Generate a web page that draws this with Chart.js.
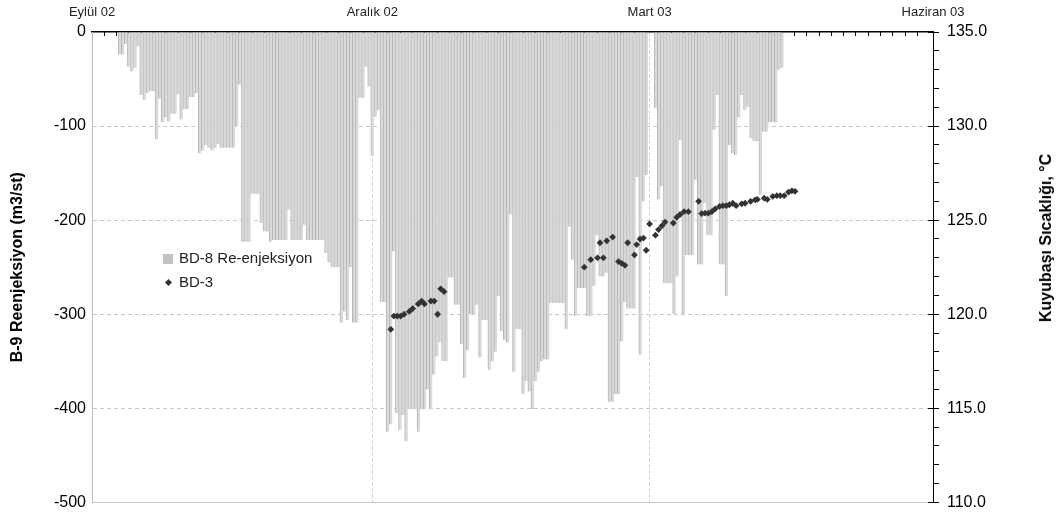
<!DOCTYPE html>
<html>
<head>
<meta charset="utf-8">
<script src="https://cdn.jsdelivr.net/npm/chart.js@4.4.1/dist/chart.umd.min.js"></script>
<style>
  body { margin: 0; background: #fff; }
  #wrap { position: relative; width: 1061px; height: 520px; font-family: "Liberation Sans", Arial, sans-serif; }
  #legend { position: absolute; left: 163px; top: 246px; font-size: 15px; color: #222; line-height: 24px; }
  #legend .sw { display: inline-block; width: 10px; height: 10px; background: #c2c2c2; margin-right: 6px; vertical-align: -1px; }
  #legend .dm { display: inline-block; width: 5px; height: 5px; background: #333; transform: rotate(45deg); margin: 0 8px 0 3px; vertical-align: 2px; }
  #rtitle { position: absolute; left: 1046px; top: 238px; transform: translate(-50%, -50%) rotate(-90deg); white-space: nowrap; font-size: 16px; font-weight: bold; color: #000; }
</style>
</head>
<body>
<div id="wrap">
  <canvas id="chart" width="1061" height="520"></canvas>
  <div id="legend"></div>
  <div id="rtitle">Kuyubaşı Sıcaklığı, °C</div>
</div>
<script>
// x axis: days counted from 1 Eylül 2002
var dayTicks = [0, 91, 181, 273];
var dayTickLabels = ['Eylül 02', 'Aralık 02', 'Mart 03', 'Haziran 03'];

// BD-8 re-injection, one value per day starting at day 9 (null = no reading)
var bd8FirstDay = 9;
var bd8Values = [
  -24, -24, -13, -37, -42, -38, -15, -67, -72, -65, -63, -63, -114, -71, -96, -91, -95, -87, -87, -66,
  -93, -82, -82, -69, -69, -65, -129, -126, -120, -123, -126, -123, -119, -123, -123, -123, -123, -123, -100, -56,
  -223, -223, -223, -172, -172, -172, -203, -212, -212, -223,
  -221, -221, -221, -221, -221, -189, -221, -221, -221, -221, -205, -221, -221, -221, -221, -221, -221,
  -235, -245, -250, -250, -250, -309, -297, -306, -250, -309, -309, -70, -70, -37, -58, -132, -90, -83, -287, -287,
  -425, -417, -233, -405, -423, -407, -435, -401, -401, -401, -425, -401, -401, -380, -401, -364, -345,
  -330, -350, -350, -261, -261, -290, -290, -332, -368, -338, -300, -300, -290, -346, -306, -306, -359, -350, -340, -281,
  -318, -327, -330, -194, -361, -316, -316, -385, -371, -382, -401, -371, -361, -350, -348, -348, -288, -288, -288, -288,
  -288, -316, -207, -242, -302, -272, -272, -272, -302, -302, -270, -216, -260, -260, -256,
  -393, -393, -385, -385, -329, -287, -294, -294, -294, -154, -343, -180, -152, null, null, -81, -178, -164, -267, -267,
  -267, -300, -260, -115, -300, -237, -237, -237, -157, -247, -247, -182, -216, -216, -104, -67, -247, -247, -281, -120,
  -129, -131, -91, -67, -83, -80, -113, -116, -116, -173, -106, -106, -96, -96, -96, -40, -38
];

// BD-3 wellhead temperature
var bd3Days = [
  97.0, 98.0, 99.1, 100.2, 101.3, 103.0, 104.1, 105.9, 107.0, 107.9, 110.0, 111.1, 112.2, 113.2, 114.3,
  159.8, 161.9, 164.1, 164.9, 166.0, 167.1, 169.0, 170.9, 172.0, 173.0, 173.9, 176.1, 176.8, 177.9, 179.0,
  179.9, 181.0, 182.9, 183.9, 185.0, 186.0, 188.7, 189.8, 190.9, 192.2, 193.6, 196.9, 197.9, 199.0, 200.1,
  201.2, 202.3, 203.7, 204.8, 205.9, 206.9, 208.0, 209.1, 210.9, 212.0, 213.8, 215.3, 216.0, 218.2, 219.2,
  221.0, 222.3, 223.4, 224.7, 226.1, 227.2, 228.2
];
var bd3Temps = [
  119.2, 119.9, 119.9, 119.9, 120.0, 120.15, 120.3, 120.55, 120.7, 120.55, 120.7, 120.7, 120.0, 121.35, 121.2,
  122.5, 122.9, 123.0, 123.8, 123.0, 123.9, 124.1, 122.8, 122.7, 122.6, 123.8, 123.15, 123.7, 124.0, 124.05,
  123.4, 124.8, 124.2, 124.5, 124.7, 124.9, 124.85, 125.15, 125.3, 125.45, 125.45, 126.0, 125.35, 125.37, 125.37,
  125.45, 125.6, 125.73, 125.77, 125.77, 125.82, 125.9, 125.77, 125.87, 125.9, 126.0, 126.08, 126.1, 126.17, 126.1,
  126.26, 126.3, 126.3, 126.3, 126.49, 126.56, 126.53
];

var seriesNames = ['BD-8 Re-enjeksiyon', 'BD-3'];

Chart.defaults.font.family = '"Liberation Sans", Arial, sans-serif';
Chart.defaults.color = '#000';

var barData = [];
bd8Values.forEach(function (v, i) {
  if (v !== null) barData.push({ x: bd8FirstDay + i, y: v });
});
var pointData = bd3Days.map(function (d, i) { return { x: d, y: bd3Temps[i] }; });

var clear = 'rgba(0,0,0,0)';

var ctx = document.getElementById('chart').getContext('2d');
var myChart = new Chart(ctx, {
  type: 'bar',
  data: {
    datasets: [{
      type: 'bar',
      label: seriesNames[0],
      data: barData,
      xAxisID: 'x',
      yAxisID: 'y',
      backgroundColor: '#dadada',
      borderColor: '#b5b5b5',
      borderWidth: { left: 1, right: 0, top: 0, bottom: 0 },
      borderSkipped: false,
      barPercentage: 1,
      categoryPercentage: 1,
      order: 2
    }, {
      type: 'scatter',
      label: seriesNames[1],
      data: pointData,
      xAxisID: 'x',
      yAxisID: 'y2',
      pointStyle: 'rectRot',
      pointRadius: 3.4,
      backgroundColor: '#333333',
      borderColor: '#333333',
      borderWidth: 0,
      order: 1
    }]
  },
  options: {
    responsive: false,
    animation: false,
    layout: { padding: { bottom: 17 } },
    plugins: { legend: { display: false }, tooltip: { enabled: false } },
    scales: {
      x: {
        type: 'linear',
        position: 'top',
        min: 0,
        max: 273,
        offset: false,
        weight: 1,
        afterBuildTicks: function (s) { s.ticks = dayTicks.map(function (v) { return { value: v }; }); },
        afterFit: function (s) { s.height = 32; },
        ticks: {
          autoSkip: false,
          maxRotation: 0,
          padding: 12,
          color: '#222',
          font: { size: 13 },
          callback: function (v) { return dayTickLabels[dayTicks.indexOf(v)]; }
        },
        grid: {
          offset: false,
          drawTicks: false,
          color: function (c) { return c.tick && c.tick.value > 0 ? '#c8c8c8' : clear; }
        },
        border: { color: '#000', width: 1.5, dash: [3, 3] }
      },
      xMinor: {
        type: 'linear',
        position: 'top',
        min: 0,
        max: 273,
        offset: false,
        weight: 0,
        afterFit: function (s) { s.height = 0; },
        ticks: { display: false, stepSize: 4 },
        grid: { offset: false, drawOnChartArea: false, tickLength: -4, color: '#000' },
        border: { display: false }
      },
      y: {
        position: 'left',
        min: -500,
        max: 0,
        afterFit: function (s) { s.width = 92; },
        ticks: { stepSize: 100, padding: 6, font: { size: 16 } },
        grid: {
          drawTicks: false,
          color: function (c) { return c.tick && c.tick.value === 0 ? clear : '#c8c8c8'; }
        },
        border: {
          color: '#bdbdbd',
          dash: function (c) { return c.tick && c.tick.value === -500 ? [] : [4, 3]; }
        },
        title: {
          display: true,
          text: 'B-9 Reenjeksiyon (m3/st)',
          font: { size: 16, weight: 'bold' },
          padding: { top: 8, bottom: 0 }
        }
      },
      y2: {
        position: 'right',
        min: 110,
        max: 135,
        weight: 1,
        afterFit: function (s) { s.width = 128; },
        ticks: {
          stepSize: 1,
          autoSkip: false,
          padding: 8,
          font: { size: 16 },
          callback: function (v) { return v % 5 === 0 ? v.toFixed(1) : ''; }
        },
        grid: { drawOnChartArea: false, tickLength: 6, color: '#000' },
        border: { color: '#000', width: 1 }
      },
      y2Major: {
        position: 'right',
        min: 110,
        max: 135,
        weight: 0,
        afterFit: function (s) { s.width = 0; },
        ticks: { display: false, stepSize: 5 },
        grid: { drawOnChartArea: false, tickLength: -5, color: '#000' },
        border: { display: false }
      }
    }
  }
});

// legend as plain text next to the bars
var legendEl = document.getElementById('legend');
legendEl.innerHTML =
  '<div><span class="sw"></span>' + seriesNames[0] + '</div>' +
  '<div><span class="dm"></span>' + seriesNames[1] + '</div>';
</script>
</body>
</html>
